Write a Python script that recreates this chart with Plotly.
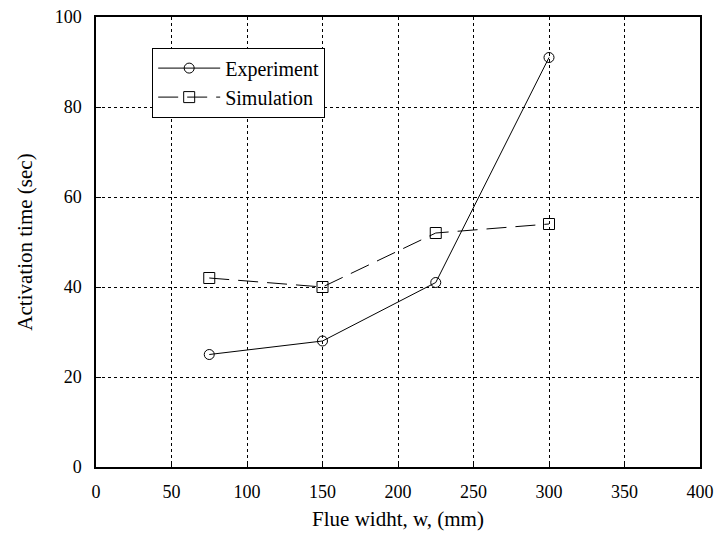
import plotly.graph_objects as go

flue_width = [75, 150, 225, 300]
experiment = [25, 28, 41, 91]
simulation = [42, 40, 52, 54]
x_ticks = [0, 50, 100, 150, 200, 250, 300, 350, 400]
y_ticks = [0, 20, 40, 60, 80, 100]

font = "Liberation Serif, Times New Roman, serif"

fig = go.Figure()
fig.add_trace(go.Scatter(
    x=flue_width, y=experiment, name="Experiment", mode="lines+markers",
    line=dict(color="black", width=1),
    marker=dict(symbol="circle-open", size=10, color="black", line=dict(width=1)),
))
fig.add_trace(go.Scatter(
    x=flue_width, y=simulation, name="Simulation", mode="lines+markers",
    line=dict(color="black", width=1, dash="20px,9px"),
    marker=dict(symbol="square-open", size=11, color="black", line=dict(width=1)),
))

axis_common = dict(
    showline=True, linecolor="black", linewidth=1.5, mirror=True,
    showgrid=True, gridcolor="black", gridwidth=1, griddash="dot",
    ticks="inside", ticklen=5, tickcolor="black",
    zeroline=False, tickfont=dict(family=font, size=18, color="black"),
    automargin=False,
)

fig.update_layout(
    width=717, height=549,
    margin=dict(l=96, r=17, t=17, b=82),
    paper_bgcolor="white", plot_bgcolor="white",
    font=dict(family=font, size=18, color="black"),
    showlegend=True,
    legend=dict(
        x=0.093, y=0.932, xanchor="left", yanchor="top",
        bordercolor="black", borderwidth=1, bgcolor="white",
        font=dict(family=font, size=20, color="black"),
        tracegroupgap=0, itemwidth=62,
    ),
)
fig.update_xaxes(range=[0, 400], tickvals=x_ticks, ticklabelstandoff=8,
                 title=dict(text="Flue widht, w, (mm)", standoff=10,
                            font=dict(family=font, size=21)),
                 **axis_common)
fig.update_yaxes(range=[0, 100], tickvals=y_ticks, ticklabelstandoff=9,
                 title=dict(text="Activation time (sec)", standoff=16,
                            font=dict(family=font, size=21)),
                 **axis_common)

fig.write_html("out.html")
